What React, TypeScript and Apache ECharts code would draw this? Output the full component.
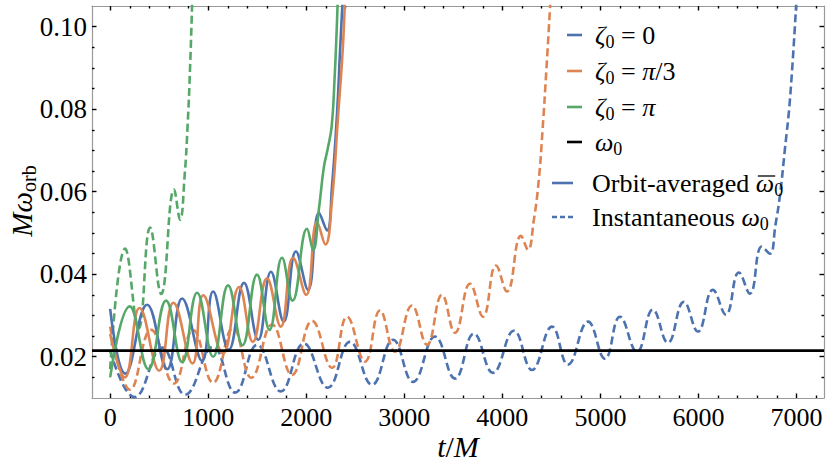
import React, { useEffect, useRef } from 'react';
import * as echarts from 'echarts';

const SERIF = 'Liberation Serif';

// Axis extents and ticks
const X_MIN = -185;
const X_MAX = 7280;
const Y_MIN = 0.01;
const Y_MAX = 0.105;
const xTicks = [0, 1000, 2000, 3000, 4000, 5000, 6000, 7000];
const yTicks = [0.02, 0.04, 0.06, 0.08, 0.1];
const xMinorTicks = [200, 400, 600, 800, 1200, 1400, 1600, 1800, 2200, 2400, 2600, 2800, 3200, 3400, 3600, 3800,
  4200, 4400, 4600, 4800, 5200, 5400, 5600, 5800, 6200, 6400, 6600, 6800, 7200];
const yMinorTicks = [0.015, 0.025, 0.03, 0.035, 0.045, 0.05, 0.055, 0.065, 0.07, 0.075, 0.085, 0.09, 0.095];

// Reference frequency omega_0
const OMEGA0 = 0.0215;

// zeta0 = 0, orbit-averaged (solid blue)
const blueSolid = [
  [0, 0.0316], [155, 0.0159], [377, 0.0326], [581, 0.017], [734, 0.0341], [938, 0.019], [1050, 0.0358],
  [1210, 0.0217], [1365, 0.0379], [1510, 0.0241], [1640, 0.0406], [1770, 0.0285], [1895, 0.0455],
  [2018, 0.0362], [2130, 0.0549], [2212, 0.0506], [2263, 0.0615], [2314, 0.079], [2345, 0.0944], [2372, 0.107],
];
// zeta0 = pi/3, orbit-averaged (solid orange)
const orangeSolid = [
  [0, 0.0255], [150, 0.015], [300, 0.0318], [500, 0.0166], [645, 0.0331], [840, 0.0184], [950, 0.0349],
  [1150, 0.0208], [1315, 0.0369], [1455, 0.0236], [1600, 0.039], [1740, 0.0273], [1866, 0.044],
  [2000, 0.035], [2110, 0.0527], [2195, 0.0472], [2263, 0.058], [2324, 0.0782], [2372, 0.0944], [2395, 0.107],
];
// zeta0 = pi, orbit-averaged (solid green)
const greenSolid = [
  [0, 0.015], [200, 0.0322], [390, 0.017], [570, 0.0336], [734, 0.0187], [887, 0.0355], [1050, 0.02],
  [1203, 0.0373], [1350, 0.0228], [1498, 0.0399], [1625, 0.0265], [1753, 0.044], [1860, 0.0336],
  [2008, 0.051], [2070, 0.0459], [2130, 0.056], [2180, 0.066], [2220, 0.0705], [2260, 0.076],
  [2290, 0.088], [2310, 0.099], [2322, 0.107],
];
// zeta0 = 0, instantaneous (dashed blue)
const blueDashed = [
  [0, 0.0215], [250, 0.0102], [530, 0.0222], [765, 0.0108], [1050, 0.0224], [1275, 0.0113], [1500, 0.0229],
  [1740, 0.0116], [1975, 0.0232], [2220, 0.0125], [2446, 0.0236], [2671, 0.0132], [2885, 0.0241],
  [3089, 0.0139], [3313, 0.0249], [3517, 0.0147], [3710, 0.0256], [3904, 0.0161], [4118, 0.0263],
  [4302, 0.0168], [4506, 0.0273], [4669, 0.0181], [4873, 0.0285], [5046, 0.0195], [5199, 0.0297],
  [5372, 0.0212], [5535, 0.0314], [5688, 0.0234], [5851, 0.0333], [5994, 0.0261], [6147, 0.0362],
  [6279, 0.0302], [6412, 0.0404], [6524, 0.0353], [6646, 0.0467], [6728, 0.045], [6785, 0.052],
  [6830, 0.059], [6880, 0.07], [6935, 0.083], [7000, 0.107],
];
// zeta0 = pi/3, instantaneous (dashed orange)
const orangeDashed = [
  [0, 0.0273], [204, 0.012], [418, 0.0265], [650, 0.0135], [846, 0.0265], [1050, 0.0137], [1254, 0.027],
  [1440, 0.0149], [1651, 0.0278], [1855, 0.0156], [2059, 0.0287], [2263, 0.0173], [2416, 0.0297],
  [2599, 0.0188], [2752, 0.0312], [2905, 0.0212], [3078, 0.0324], [3231, 0.0229], [3384, 0.035],
  [3517, 0.0258], [3670, 0.0377], [3802, 0.0297], [3935, 0.0421], [4047, 0.0358], [4190, 0.0493],
  [4261, 0.0459], [4320, 0.053], [4370, 0.0625], [4410, 0.075], [4450, 0.09], [4492, 0.107],
];
// zeta0 = pi, instantaneous (dashed green)
const greenDashed = [
  [0, 0.017], [153, 0.0462], [290, 0.0268], [408, 0.0513], [520, 0.0352], [652, 0.0605], [713, 0.0532],
  [760, 0.064], [790, 0.076], [815, 0.09], [838, 0.107],
];
const omegaLine = [[X_MIN, OMEGA0], [X_MAX, OMEGA0]];

const BLUE = '#4C72B0';
const ORANGE = '#DD8452';
const GREEN = '#55A868';
const FRAME = '#9a9a9a';
const LEGEND_SIZE = 26;

function lineSeries(data: number[][], color: string, dashed: boolean, z: number, name: string) {
  return {
    name,
    type: 'line',
    data,
    showSymbol: false,
    symbol: 'none',
    smooth: 0.45,
    clip: true,
    silent: true,
    z,
    itemStyle: { color },
    lineStyle: { color, width: 2.6, type: dashed ? [8, 4] : 'solid', cap: 'butt', join: 'round' },
    emphasis: { disabled: true },
  };
}

function xAxisDef(gridIndex: number, position: string, ticks: number[], len: number, labels: boolean, line: boolean) {
  return {
    type: 'value', gridIndex, position, min: X_MIN, max: X_MAX,
    axisLine: { show: line, onZero: false, lineStyle: { color: FRAME, width: 1.2 } },
    axisTick: { show: true, inside: true, length: len, customValues: ticks, lineStyle: { color: '#000', width: 1.4 } },
    axisLabel: labels
      ? { show: true, customValues: ticks, margin: 6, fontFamily: SERIF, fontSize: 26, color: '#000', formatter: (v: number) => String(v) }
      : { show: false },
    splitLine: { show: false },
    minorTick: { show: false },
  };
}
function yAxisDef(gridIndex: number, position: string, ticks: number[], len: number, labels: boolean, line: boolean) {
  return {
    type: 'value', gridIndex, position, min: Y_MIN, max: Y_MAX,
    axisLine: { show: line, onZero: false, lineStyle: { color: FRAME, width: 1.2 } },
    axisTick: { show: true, inside: true, length: len, customValues: ticks, lineStyle: { color: '#000', width: 1.4 } },
    axisLabel: labels
      ? { show: true, customValues: ticks, margin: 5, fontFamily: SERIF, fontSize: 27, color: '#000', formatter: (v: number) => v.toFixed(2) }
      : { show: false },
    splitLine: { show: false },
    minorTick: { show: false },
  };
}

const richBase = (size: number) => ({
  i: { fontFamily: SERIF, fontStyle: 'italic', fontSize: size, lineHeight: size + 5, fill: '#000', color: '#000' },
  r: { fontFamily: SERIF, fontStyle: 'normal', fontSize: size, lineHeight: size + 5, fill: '#000', color: '#000' },
  s: { fontFamily: SERIF, fontStyle: 'normal', fontSize: Math.round(size * 0.68), lineHeight: Math.round(size * 0.68) + 1, verticalAlign: 'bottom', fill: '#000', color: '#000' },
});

function textEl(x: number, y: number, text: string, size: number, align: string, rotation = 0) {
  return {
    type: 'text', x, y, rotation, silent: true, z: 100,
    style: {
      text, rich: richBase(size), fontFamily: SERIF, fontSize: size, fill: '#000',
      align, textAlign: align, verticalAlign: 'middle', textVerticalAlign: 'middle',
    },
  };
}
function markerEl(x1: number, x2: number, y: number, color: string, dash: number[] | null, width = 2.6) {
  return {
    type: 'line', silent: true, z: 100,
    shape: { x1, y1: y, x2, y2: y },
    style: { stroke: color, lineWidth: width, lineDash: dash || undefined },
  };
}

function measure(text: string, font: string, fallback: number) {
  try {
    const c = document.createElement('canvas').getContext('2d');
    if (!c) return fallback;
    c.font = font;
    return c.measureText(text).width;
  } catch (e) {
    return fallback;
  }
}

const legendRows = [
  { y: 35, color: BLUE, dash: null, long: false, text: '{i|ζ}{s|0}{r| = 0}' },
  { y: 71, color: ORANGE, dash: null, long: false, text: '{i|ζ}{s|0}{r| = }{i|π}{r|/3}' },
  { y: 107, color: GREEN, dash: null, long: false, text: '{i|ζ}{s|0}{r| = }{i|π}' },
  { y: 142, color: '#000', dash: null, long: false, text: '{i|ω}{s|0}' },
  { y: 183, color: BLUE, dash: null, long: true, text: '{r|Orbit-averaged }{i|ω}{s|0}' },
  { y: 217, color: BLUE, dash: [5, 3], long: true, text: '{r|Instantaneous }{i|ω}{s|0}' },
];

export default function App() {
  const ref = useRef<HTMLDivElement>(null);
  useEffect(() => {
    if (!ref.current) return;
    const chart = echarts.init(ref.current, null, { renderer: 'svg', width: 830, height: 472 });
    const graphic: any[] = [];
    legendRows.forEach((r) => {
      if (r.long) {
        graphic.push(markerEl(552, 573, r.y, r.color, r.dash));
        graphic.push(textEl(592, r.y, r.text, LEGEND_SIZE, 'left'));
      } else {
        graphic.push(markerEl(567, 582, r.y, r.color, r.dash));
        graphic.push(textEl(595, r.y, r.text, LEGEND_SIZE, 'left'));
      }
    });
    // overline on the orbit-averaged omega
    const wPrefix = measure('Orbit-averaged ', `${LEGEND_SIZE}px "${SERIF}"`, 164);
    const wOmega = measure('ω', `italic ${LEGEND_SIZE}px "${SERIF}"`, 17);
    const ox = 592 + wPrefix;
    graphic.push(markerEl(ox + 2, ox + wOmega + 1, 183 - 7, '#000', null, 1.3));

    graphic.push(textEl(458, 446, '{i|t}{r|/}{i|M}', 30, 'center'));
    graphic.push(textEl(22, 201, '{i|Mω}{s|orb}', 29, 'center', Math.PI / 2));

    const option: any = {
      animation: false,
      backgroundColor: '#ffffff',
      textStyle: { fontFamily: SERIF },
      grid: [
        { left: 92, right: 6, top: 6, bottom: 74, containLabel: false },
        { left: 92, right: 6, top: 6, bottom: 74, containLabel: false },
      ],
      xAxis: [
        xAxisDef(0, 'bottom', xTicks, 4.5, true, true),
        xAxisDef(0, 'top', xTicks, 4.5, false, true),
        xAxisDef(1, 'bottom', xMinorTicks, 2.5, false, false),
        xAxisDef(1, 'top', xMinorTicks, 2.5, false, false),
      ],
      yAxis: [
        yAxisDef(0, 'left', yTicks, 4.5, true, true),
        yAxisDef(0, 'right', yTicks, 4.5, false, true),
        yAxisDef(1, 'left', yMinorTicks, 2.5, false, false),
        yAxisDef(1, 'right', yMinorTicks, 2.5, false, false),
      ],
      series: [
        lineSeries(blueDashed, BLUE, true, 2, 'ζ0=0 instantaneous'),
        lineSeries(orangeDashed, ORANGE, true, 2, 'ζ0=π/3 instantaneous'),
        lineSeries(greenDashed, GREEN, true, 2, 'ζ0=π instantaneous'),
        lineSeries(blueSolid, BLUE, false, 3, 'ζ0=0 orbit-averaged'),
        lineSeries(orangeSolid, ORANGE, false, 3, 'ζ0=π/3 orbit-averaged'),
        lineSeries(greenSolid, GREEN, false, 3, 'ζ0=π orbit-averaged'),
        {
          name: 'ω0', type: 'line', data: omegaLine, showSymbol: false, symbol: 'none', silent: true, z: 5,
          lineStyle: { color: '#000', width: 2.8 }, itemStyle: { color: '#000' },
        },
      ],
      graphic,
    };
    chart.setOption(option);
    return () => chart.dispose();
  }, []);
  return (
    <div
      ref={ref}
      style={{ position: 'fixed', left: 0, top: 0, width: 830, height: 472, background: '#fff' }}
    />
  );
}
